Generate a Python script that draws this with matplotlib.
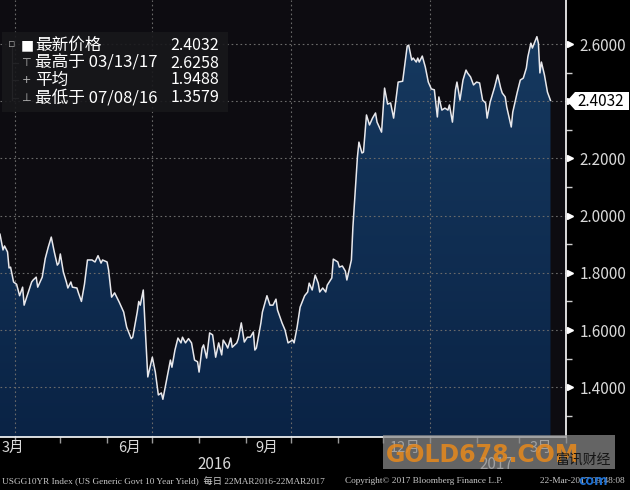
import matplotlib

matplotlib.use("Agg")
import matplotlib.dates as mdates
import matplotlib.pyplot as plt
import numpy as np
import pandas as pd
from matplotlib.colors import LinearSegmentedColormap
from matplotlib.patches import Polygon, Rectangle
from matplotlib.transforms import blended_transform_factory

plt.rcParams["font.family"] = ["Noto Sans CJK SC", "DejaVu Sans"]

# USGG10YR daily yield (days counted from 22 Mar 2016)
START = pd.Timestamp("2016-03-22")
day_offset = [
    0, 2, 3, 5, 6, 7, 9, 11, 13, 15, 16, 18, 21, 22, 24, 25, 28, 30, 32, 34,
    36, 38, 39, 40, 42, 44, 45, 47, 48, 51, 52, 54, 56, 58, 61, 63, 65, 67, 68, 71,
    72, 74, 76, 79, 82, 84, 87, 88, 91, 92, 93, 95, 96, 98, 101, 103, 105, 107, 108, 113,
    114, 116, 118, 120, 121, 123, 125, 127, 129, 131, 132, 134, 135, 137, 139, 141, 143, 145, 147, 148,
    150, 151, 153, 154, 157, 158, 160, 162, 164, 166, 168, 169, 170, 173, 174, 177, 179, 181, 183, 184,
    187, 189, 191, 194, 195, 197, 199, 202, 204, 205, 207, 209, 211, 212, 214, 216, 217, 220, 221, 224,
    225, 227, 229, 230, 233, 234, 237, 238, 240, 241, 243, 245, 247, 249, 250, 253, 255, 257, 259, 261,
    264, 267, 270, 271, 273, 274, 276, 277, 278, 280, 282, 284, 286, 288, 290, 291, 293, 295, 297, 298,
    300, 302, 303, 305, 307, 309, 310, 312, 314, 316, 318, 320, 322, 323, 325, 328, 330, 332, 333, 335,
    336, 339, 340, 343, 345, 347, 349, 350, 352, 353, 356, 357, 358, 359, 361, 363, 365,
]
yield_pct = [
    1.935, 1.880, 1.894, 1.873, 1.817, 1.820, 1.768, 1.760, 1.720, 1.750,
    1.687, 1.720, 1.768, 1.775, 1.785, 1.750, 1.785, 1.850, 1.890, 1.925,
    1.873, 1.827, 1.834, 1.866, 1.803, 1.768, 1.747, 1.768, 1.750, 1.747,
    1.730, 1.700, 1.760, 1.845, 1.845, 1.838, 1.860, 1.834, 1.845, 1.838,
    1.810, 1.715, 1.730, 1.698, 1.663, 1.610, 1.570, 1.575, 1.663, 1.700,
    1.687, 1.740, 1.635, 1.436, 1.505, 1.453, 1.373, 1.380, 1.3579, 1.495,
    1.470, 1.530, 1.572, 1.555, 1.575, 1.555, 1.570, 1.555, 1.495, 1.489,
    1.453, 1.537, 1.548, 1.502, 1.590, 1.583, 1.505, 1.555, 1.513, 1.565,
    1.548, 1.537, 1.572, 1.540, 1.555, 1.570, 1.625, 1.558, 1.575, 1.575,
    1.593, 1.530, 1.537, 1.625, 1.663, 1.720, 1.687, 1.687, 1.708, 1.670,
    1.625, 1.600, 1.555, 1.565, 1.555, 1.610, 1.680, 1.720, 1.733, 1.764,
    1.740, 1.792, 1.764, 1.733, 1.747, 1.733, 1.757, 1.782, 1.848, 1.838,
    1.820, 1.824, 1.806, 1.775, 1.845, 1.960, 2.205, 2.257, 2.219, 2.222,
    2.352, 2.317, 2.341, 2.359, 2.327, 2.292, 2.446, 2.390, 2.394, 2.341,
    2.467, 2.470, 2.593, 2.596, 2.544, 2.551, 2.537, 2.551, 2.537, 2.558,
    2.520, 2.467, 2.443, 2.440, 2.345, 2.415, 2.369, 2.376, 2.369, 2.387,
    2.327, 2.440, 2.467, 2.404, 2.474, 2.509, 2.499, 2.485, 2.457, 2.467,
    2.464, 2.404, 2.394, 2.341, 2.397, 2.450, 2.492, 2.446, 2.429, 2.415,
    2.380, 2.310, 2.362, 2.432, 2.474, 2.481, 2.516, 2.555, 2.603, 2.586,
    2.6258, 2.603, 2.499, 2.537, 2.492, 2.432, 2.4032,
]

y_major = [1.4, 1.6, 1.8, 2.0, 2.2, 2.4, 2.6]
y_minor = [1.3, 1.5, 1.7, 1.9, 2.1, 2.3, 2.5]
quarter_starts = ["2016-04-01", "2016-07-01", "2016-10-01", "2017-01-01"]
month_labels = ["6月", "9月", "12月", "3月"]
month_label_dates = ["2016-06-16", "2016-09-15", "2016-12-16", "2017-03-16"]
year_labels = ["2016", "2017"]
year_label_dates = ["2016-08-11", "2017-02-14"]

last_value = "2.4032"
legend_names = ["最新价格", "最高于 03/13/17", "平均", "最低于 07/08/16"]
legend_values = ["2.4032", "2.6258", "1.9488", "1.3579"]

W, H = 630, 490
BG = "#0d0c11"
TXT = "#d9d9d9"


def fx(x):
    return x / W


def fy(y):
    return 1 - y / H


dates = START + pd.to_timedelta(day_offset, unit="D")
xnum = mdates.date2num(dates)
x0 = mdates.date2num(START)
x1 = x0 + 375.3
ybot, ytop = 1.226, 2.754

fig = plt.figure(figsize=(W / 100, H / 100), dpi=100, facecolor="black")
ax = fig.add_axes([0, 53 / H, 566 / W, 437 / H])
ax.set_facecolor(BG)
ax.set_xlim(x0, x1)
ax.set_ylim(ybot, ytop)

# gradient area under the line
poly = ax.fill_between(xnum, yield_pct, ybot, color="none", lw=0)
cmap = LinearSegmentedColormap.from_list("navy", ["#0a2345", "#173b62"])
grad = np.linspace(0, 1, 256).reshape(-1, 1)
im = ax.imshow(grad, extent=[x0, x1, ybot, ytop], origin="lower", aspect="auto", cmap=cmap, zorder=1)
im.set_clip_path(poly.get_paths()[0], transform=ax.transData)
ax.plot(xnum, yield_pct, color="#e8e8ec", lw=1.1, zorder=3)

# grid
for v in y_major:
    ax.axhline(v, color="#6a6a6a", lw=0.8, ls=(0, (1.5, 2.5)), zorder=2)
for d in quarter_starts:
    ax.axvline(mdates.date2num(pd.Timestamp(d)), color="#6a6a6a", lw=0.8, ls=(0, (1.5, 2.5)), zorder=2)

# spines
for s in ["left", "top"]:
    ax.spines[s].set_visible(False)
ax.spines["right"].set_color("white")
ax.spines["bottom"].set_color("white")
ax.spines["right"].set_linewidth(1.2)
ax.spines["bottom"].set_linewidth(1.2)

# y axis on the right
ax.yaxis.tick_right()
ax.set_yticks(y_major)
ax.set_yticks(y_minor, minor=True)
ax.set_yticklabels(["" if abs(v - 2.4) < 1e-9 else f"{v:.4f}" for v in y_major])
ax.tick_params(axis="y", which="major", length=0, pad=10, labelsize=11, labelcolor=TXT)
ax.tick_params(axis="y", which="minor", length=4, width=1, color="#cfcfcf")
tri = blended_transform_factory(ax.transAxes, ax.transData)
ax.plot([1.007] * len(y_major), y_major, ls="", marker=">", ms=4, color="white", transform=tri, clip_on=False)

# x axis: month ticks, labels centred in the month
ax.xaxis.set_major_locator(mdates.MonthLocator())
ax.xaxis.set_major_formatter(plt.NullFormatter())
ax.tick_params(axis="x", which="major", length=4, width=1, color="#9a9a9a")
tx = blended_transform_factory(ax.transData, ax.transAxes)
ax.text(x0 + 1.3, -0.026, "3月", transform=tx, ha="left", va="center", color=TXT, fontsize=10.5)
for lab, d in zip(month_labels, month_label_dates):
    ax.text(mdates.date2num(pd.Timestamp(d)), -0.026, lab, transform=tx, ha="center", va="center",
            color=TXT, fontsize=10.5)
for lab, d in zip(year_labels, year_label_dates):
    ax.text(mdates.date2num(pd.Timestamp(d)), -0.064, lab, transform=tx, ha="center", va="center",
            color=TXT, fontsize=11)

# last value tag
tag = Polygon([(fx(567), fy(101)), (fx(575), fy(92)), (fx(629), fy(92)), (fx(629), fy(110)), (fx(575), fy(110))],
              closed=True, transform=fig.transFigure, facecolor="white", edgecolor="none", zorder=5)
fig.patches.append(tag)
fig.text(fx(577), fy(101), last_value, ha="left", va="center", color="black", fontsize=11, zorder=6)

# legend block
fig.patches.append(Rectangle((fx(2), fy(112)), 226 / W, 80 / H, transform=fig.transFigure,
                             facecolor="#18181b", alpha=0.9, edgecolor="none", zorder=4))
rows_y = [45, 63, 80, 98]
fig.lines.append(plt.Line2D([fx(12), fx(12)], [fy(47), fy(100)], transform=fig.transFigure, color="#8a8a8a", lw=0.8))
for y in rows_y[1:]:
    fig.lines.append(plt.Line2D([fx(12), fx(18)], [fy(y), fy(y)], transform=fig.transFigure, color="#8a8a8a", lw=0.8))
fig.text(fx(12), fy(44), "▫", ha="center", va="center", color="#a0a0a0", fontsize=8, family="DejaVu Sans", zorder=6)
fig.text(fx(27), fy(45), "■", ha="center", va="center", color="white", fontsize=10, family="DejaVu Sans", zorder=6)
fig.text(fx(26), fy(63), "⊤", ha="center", va="center", color="#bbbbbb", fontsize=8, family="DejaVu Sans", zorder=6)
fig.text(fx(26), fy(80), "+", ha="center", va="center", color="#bbbbbb", fontsize=8, family="DejaVu Sans", zorder=6)
fig.text(fx(26), fy(98), "⊥", ha="center", va="center", color="#bbbbbb", fontsize=8, family="DejaVu Sans", zorder=6)
for y, name, val in zip(rows_y, legend_names, legend_values):
    fig.text(fx(35), fy(y), name, ha="left", va="center", color="white", fontsize=12, zorder=6)
    fig.text(fx(219), fy(y), val, ha="right", va="center", color="white", fontsize=11.5, zorder=6)

# footer
foot = dict(va="center", color="#c8c8c8", fontsize=6.7, family=["Liberation Serif", "Noto Sans CJK SC"])
fig.text(fx(2), fy(481), "USGG10YR Index (US Generic Govt 10 Year Yield)  每日 22MAR2016-22MAR2017", ha="left", **foot)
fig.text(fx(345), fy(481), "Copyright© 2017 Bloomberg Finance L.P.", ha="left", **foot)
fig.text(fx(540), fy(481), "22-Mar-2017 09:48:08", ha="left", **foot)

# site watermark
fig.patches.append(Rectangle((fx(383), fy(469)), 232 / W, 34 / H, transform=fig.transFigure,
                             facecolor="#8c8c8c", alpha=0.72, edgecolor="none", zorder=7))
fig.text(fx(386), fy(455), "GOLD678.COM", ha="left", va="center", color="#e8891c", alpha=0.85,
         fontsize=17, weight="bold", family="DejaVu Sans", zorder=8)
fig.text(fx(556), fy(460), "富讯财经", ha="left", va="center", color="#151515", fontsize=10, zorder=9)
fig.text(fx(578), fy(481), "com", ha="left", va="center", color="#1e6fd0", fontsize=10, weight="bold", zorder=9)

fig.savefig("out.png", dpi=100, facecolor="black")
